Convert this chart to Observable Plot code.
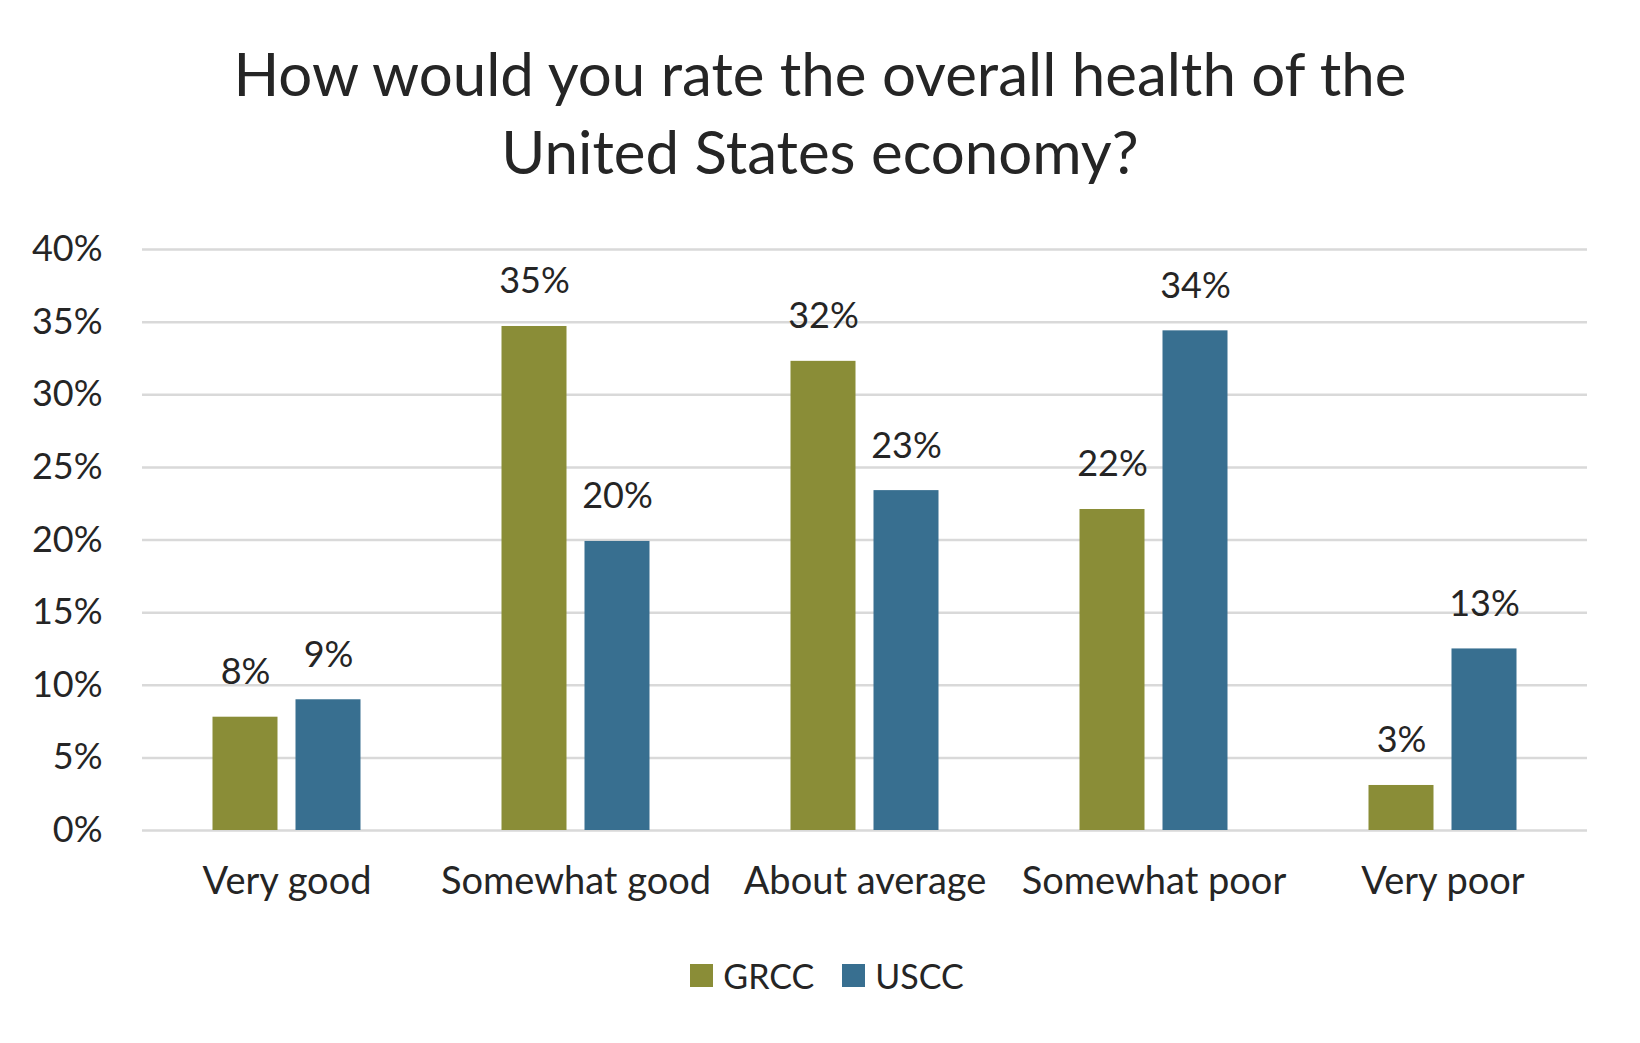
<!DOCTYPE html>
<html>
<head>
<meta charset="utf-8">
<script src="https://cdn.jsdelivr.net/npm/d3@7"></script>
<script src="https://cdn.jsdelivr.net/npm/@observablehq/plot@0.6"></script>
<style>
  html, body { margin: 0; padding: 0; background: #fff; }
  body { width: 1640px; height: 1043px; overflow: hidden; font-family: Lato, "Open Sans", sans-serif; color: #252525; }
  #title { height: 200px; box-sizing: border-box; padding-top: 34px; text-align: center; font-size: 60px; line-height: 78px; }
  #legend { height: 70px; display: flex; justify-content: center; align-items: center; font-size: 34px; padding-left: 14px; }
  .item { display: flex; align-items: center; margin: 0 14px; }
  .sw { width: 23px; height: 23px; margin-right: 10px; }
</style>
</head>
<body>
<div id="title">How would you rate the overall health of the<br>United States economy?</div>
<div id="chart"></div>
<div id="legend"></div>
<script>
const categories = ["Very good", "Somewhat good", "About average", "Somewhat poor", "Very poor"];
const series = ["GRCC", "USCC"];
const grcc = [7.8, 34.7, 32.3, 22.1, 3.1];
const uscc = [9.0, 19.9, 23.4, 34.4, 12.5];
const yTicks = [0, 5, 10, 15, 20, 25, 30, 35, 40];
const colors = ["#8a8d37", "#386f90"];

const rows = categories.flatMap((c, i) => [
  {category: c, series: "GRCC", value: grcc[i]},
  {category: c, series: "USCC", value: uscc[i]}
]);
const g = rows.filter(d => d.series === "GRCC");
const u = rows.filter(d => d.series === "USCC");
const textColor = "#252525";

const chart = Plot.plot({
  width: 1640,
  height: 740,
  marginTop: 49,
  marginBottom: 110,
  marginLeft: 142,
  marginRight: 53,
  style: {fontFamily: "Lato, 'Open Sans', sans-serif", color: textColor, background: "#fff"},
  x: {domain: categories, padding: 0, label: null},
  y: {domain: [0, 40], label: null},
  color: {domain: series, range: colors},
  marks: [
    Plot.ruleY(yTicks, {stroke: "#d9d9d9", strokeWidth: 2.5}),
    Plot.barY(g, {x: "category", y: "value", fill: "series", insetLeft: 70.5, insetRight: 153.5}),
    Plot.barY(u, {x: "category", y: "value", fill: "series", insetLeft: 153.5, insetRight: 70.5}),
    Plot.text(g, {x: "category", y: "value", text: d => Math.round(d.value) + "%", dx: -41.5, dy: -33, lineAnchor: "bottom", fontSize: 36, fill: textColor}),
    Plot.text(u, {x: "category", y: "value", text: d => Math.round(d.value) + "%", dx: 41.5, dy: -33, lineAnchor: "bottom", fontSize: 36, fill: textColor}),
    Plot.axisY({ticks: yTicks, tickFormat: d => d + "%", tickSize: 0, tickPadding: 40, fontSize: 36, label: null, fill: textColor}),
    Plot.axisX({tickSize: 0, tickPadding: 37, fontSize: 38, label: null, fill: textColor})
  ]
});
document.getElementById("chart").appendChild(chart);

const legend = document.getElementById("legend");
series.forEach((s, i) => {
  const item = document.createElement("div");
  item.className = "item";
  const sw = document.createElement("div");
  sw.className = "sw";
  sw.style.background = colors[i];
  const t = document.createElement("span");
  t.textContent = s;
  item.appendChild(sw);
  item.appendChild(t);
  legend.appendChild(item);
});
</script>
</body>
</html>
